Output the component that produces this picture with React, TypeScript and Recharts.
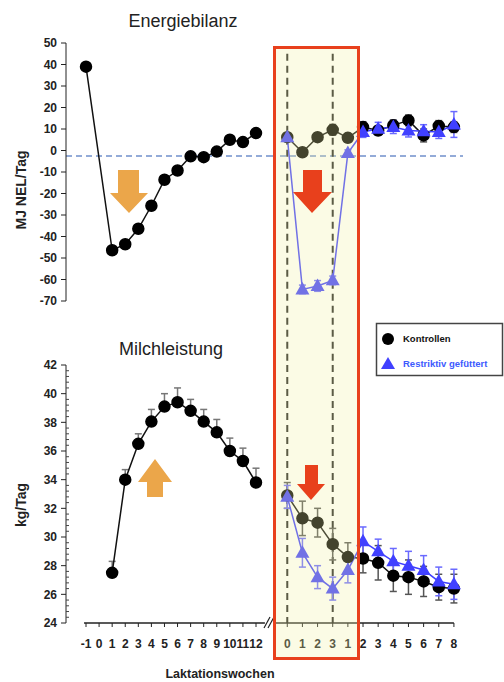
import React from 'react';
import { LineChart, Line, XAxis, YAxis, ReferenceLine, ErrorBar } from 'recharts';

// Laktationswochen, linker Teil (Woche 0 ohne Messwert)
const leftWeeks = [-1, 1, 2, 3, 4, 5, 6, 7, 8, 9, 10, 11, 12];
const leftTicks = [-1, 0, 1, 2, 3, 4, 5, 6, 7, 8, 9, 10, 11, 12];
const energyControlLeft = [39, -46.4, -43.6, -36.4, -25.7, -13.6, -9.3, -2.7, -3.1, -0.5, 5.0, 3.9, 8.1];
const energyControlLeftErr = [1, 1.5, 1.5, 1.5, 1.5, 1.5, 1.5, 1, 1, 1, 1, 1, 1];
const milkControlLeft = [null, 27.5, 34.0, 36.5, 38.05, 39.1, 39.4, 38.8, 38.05, 37.3, 36.0, 35.3, 33.8];
const milkControlLeftErr = [null, 0.8, 0.7, 0.7, 0.85, 0.9, 1.0, 0.8, 0.85, 0.9, 0.9, 0.9, 1.0];

// rechter Teil: Restriktionswochen 0-3, danach Wochen 1-8
const postLabels = ['0', '1', '2', '3', '1', '2', '3', '4', '5', '6', '7', '8'];
const energyControlRight = [6.2, -0.8, 6.2, 9.6, 5.9, 10.9, 9.3, 11.7, 14, 7, 11.4, 10.9];
const energyControlRightErr = [2, 1.5, 2, 2.5, 2, 2.5, 2, 2.5, 2.5, 3, 2.5, 2.5];
const energyRestrictRight = [6.2, -64.6, -63, -60.4, -1.2, 8.6, 10.1, 10.9, 9.3, 9, 8.6, 12.1];
const energyRestrictRightErr = [2, 2, 2.5, 2, 1.5, 2.5, 3, 3, 3, 3, 3, 6];
const milkControlRight = [32.9, 31.3, 31.0, 29.5, 28.6, 28.5, 28.2, 27.3, 27.2, 26.9, 26.5, 26.4];
const milkControlRightErr = [0.9, 1.2, 1.0, 1.1, 1.0, 1.0, 1.2, 1.1, 1.2, 1.05, 0.9, 1.0];
const milkRestrictRight = [32.8, 28.9, 27.2, 26.4, 27.7, 29.7, 29.0, 28.3, 28.0, 27.7, 26.9, 26.7];
const milkRestrictRightErr = [0.8, 1.0, 0.8, 0.8, 0.9, 1.0, 0.85, 0.9, 1.0, 1.0, 1.0, 1.05];

const energyTicks = [50, 40, 30, 20, 10, 0, -10, -20, -30, -40, -50, -60, -70];
const milkTicks = [24, 26, 28, 30, 32, 34, 36, 38, 40, 42];
const milkMinorSteps = [0.4, 0.8, 1.2, 1.6];
const energyLine = -2.5;
const restrictStart = 0;
const restrictEnd = 3;

const FONT = "'Liberation Sans', Arial, sans-serif";
const BLUE = '#4040ff';
const RED = '#e8401c';
const ORANGE = '#eba64a';

const leftData = leftWeeks.map((week, i) => ({
  week,
  energy: energyControlLeft[i],
  energyErr: [0, energyControlLeftErr[i]],
  milk: milkControlLeft[i],
  milkErr: milkControlLeftErr[i] == null ? null : [0, milkControlLeftErr[i]],
}));

const rightData = postLabels.map((label, i) => ({
  idx: i,
  label,
  eCtrl: energyControlRight[i],
  eCtrlErr: energyControlRightErr[i],
  eRes: energyRestrictRight[i],
  eResErr: energyRestrictRightErr[i],
  mCtrl: milkControlRight[i],
  mCtrlErr: milkControlRightErr[i],
  mRes: milkRestrictRight[i],
  mResErr: milkRestrictRightErr[i],
}));

const milkAllTicks = [
  ...milkTicks,
  ...milkTicks.slice(0, -1).flatMap((t) => milkMinorSteps.map((d) => Math.round((t + d) * 10) / 10)),
].sort((a, b) => a - b);

const leftDomain = [-2.53, 13.07];
const rightDomain = [-1.14, 11.6];

const tickStyle = { fontSize: 12, fontWeight: 700, fill: '#222', fontFamily: FONT };

const TriangleDot = (props: any) => {
  const { cx, cy, index } = props;
  if (cx == null || cy == null) return <g key={`tri-${index}`} />;
  return (
    <polygon
      key={`tri-${index}`}
      points={`${cx},${cy - 7.5} ${cx + 7},${cy + 5} ${cx - 7},${cy + 5}`}
      fill={BLUE}
    />
  );
};

const MilkTick = (props: any) => {
  const { x, y, payload } = props;
  const ax = x + 9;
  const major = milkTicks.includes(payload.value);
  return (
    <g>
      {major ? (
        <>
          <line x1={ax - 5} x2={ax} y1={y} y2={y} stroke="#222" />
          <text x={x} y={y} dy="0.355em" textAnchor="end" {...tickStyle}>
            {payload.value}
          </text>
        </>
      ) : (
        <line x1={ax} x2={ax + 3} y1={y} y2={y} stroke="#444" />
      )}
    </g>
  );
};

const abs = (left: number, top: number): React.CSSProperties => ({ position: 'absolute', left, top });

const dashProps = { ifOverflow: 'visible' as const, stroke: '#222', strokeWidth: 2, strokeDasharray: '7 5' };

export default function App() {
  return (
    <div style={{ position: 'absolute', left: 0, top: 0, width: 504, height: 682, background: '#fff', fontFamily: FONT }}>
      {/* Energiebilanz, links */}
      <div style={abs(0, 0)}>
        <LineChart width={270} height={310} data={leftData} margin={{ top: 43, right: 0, bottom: 9, left: 0 }}>
          <XAxis type="number" dataKey="week" domain={leftDomain} hide />
          <YAxis
            width={66}
            domain={[-70, 50]}
            ticks={energyTicks}
            interval={0}
            tickSize={5}
            tickMargin={4}
            stroke="#222"
            tick={tickStyle}
          />
          <ReferenceLine y={energyLine} stroke="#7090cc" strokeWidth={1.5} strokeDasharray="6 4" />
          <Line
            dataKey="energy"
            stroke="#111"
            strokeWidth={1.5}
            dot={{ r: 5.5, fill: '#000', stroke: '#000' }}
            isAnimationActive={false}
          >
            <ErrorBar dataKey="energyErr" width={3.5} stroke="#777" />
          </Line>
        </LineChart>
      </div>

      {/* Energiebilanz, rechts */}
      <div style={abs(270, 0)}>
        <LineChart width={193} height={370} data={rightData} margin={{ top: 43, right: 0, bottom: 69, left: 0 }}>
          <XAxis type="number" dataKey="idx" domain={rightDomain} hide />
          <YAxis domain={[-70, 50]} hide />
          <ReferenceLine y={energyLine} stroke="#7090cc" strokeWidth={1.5} strokeDasharray="6 4" />
          <ReferenceLine segment={[{ x: restrictStart, y: 45 }, { x: restrictStart, y: -99.8 }]} {...dashProps} />
          <ReferenceLine segment={[{ x: restrictEnd, y: 45 }, { x: restrictEnd, y: -99.8 }]} {...dashProps} />
          <Line dataKey="eCtrl" stroke="#111" strokeWidth={1.5} dot={{ r: 5.5, fill: '#000', stroke: '#000' }} isAnimationActive={false}>
            <ErrorBar dataKey="eCtrlErr" width={3.5} stroke="#555" />
          </Line>
          <Line dataKey="eRes" stroke={BLUE} strokeWidth={1.5} dot={TriangleDot} isAnimationActive={false}>
            <ErrorBar dataKey="eResErr" width={3.5} stroke="#6a6aff" />
          </Line>
        </LineChart>
      </div>

      {/* Milchleistung, links */}
      <div style={abs(0, 322)}>
        <LineChart width={270} height={340} data={leftData} margin={{ top: 43, right: 0, bottom: 9, left: 0 }}>
          <XAxis
            type="number"
            dataKey="week"
            domain={leftDomain}
            ticks={leftTicks}
            interval={0}
            height={30}
            axisLine={false}
            tickSize={4}
            tickMargin={12}
            stroke="#222"
            tick={tickStyle}
          />
          <YAxis
            width={66}
            domain={[24, 42]}
            ticks={milkAllTicks}
            interval={0}
            tickSize={5}
            tickMargin={4}
            tickLine={false}
            stroke="#222"
            tick={<MilkTick />}
          />
          <ReferenceLine segment={[{ x: -1.15, y: 24 }, { x: 12.68, y: 24 }]} ifOverflow="visible" stroke="#222" strokeWidth={1.5} />
          <Line dataKey="milk" stroke="#111" strokeWidth={1.5} dot={{ r: 5.5, fill: '#000', stroke: '#000' }} isAnimationActive={false}>
            <ErrorBar dataKey="milkErr" width={3.5} stroke="#777" />
          </Line>
        </LineChart>
      </div>

      {/* Milchleistung, rechts */}
      <div style={abs(270, 322)}>
        <LineChart width={193} height={340} data={rightData} margin={{ top: 43, right: 0, bottom: 9, left: 0 }}>
          <XAxis
            type="number"
            dataKey="idx"
            domain={rightDomain}
            ticks={rightData.map((d) => d.idx)}
            tickFormatter={(v: number) => postLabels[v]}
            interval={0}
            height={30}
            axisLine={false}
            tickSize={4}
            tickMargin={12}
            stroke="#222"
            tick={tickStyle}
          />
          <YAxis domain={[24, 42]} hide />
          <ReferenceLine segment={[{ x: -0.8, y: 24 }, { x: 11, y: 24 }]} ifOverflow="visible" stroke="#222" strokeWidth={1.5} />
          <ReferenceLine segment={[{ x: restrictStart, y: 42 }, { x: restrictStart, y: 24 }]} {...dashProps} />
          <ReferenceLine segment={[{ x: restrictEnd, y: 42 }, { x: restrictEnd, y: 24 }]} {...dashProps} />
          <Line dataKey="mCtrl" stroke="#111" strokeWidth={1.5} dot={{ r: 5.5, fill: '#000', stroke: '#000' }} isAnimationActive={false}>
            <ErrorBar dataKey="mCtrlErr" width={3.5} stroke="#555" />
          </Line>
          <Line dataKey="mRes" stroke={BLUE} strokeWidth={1.5} dot={TriangleDot} isAnimationActive={false}>
            <ErrorBar dataKey="mResErr" width={3.5} stroke="#6a6aff" />
          </Line>
        </LineChart>
      </div>

      {/* Beschriftungen, Pfeile, Markierung */}
      <svg width={504} height={682} style={{ position: 'absolute', left: 0, top: 0, pointerEvents: 'none' }}>
        <rect x={274} y={47} width={85} height={612} fill="rgb(240,240,160)" fillOpacity={0.28} />

        <text x={183} y={27} textAnchor="middle" fontSize={18} fill="#222" fontFamily={FONT}>Energiebilanz</text>
        <text x={171} y={355} textAnchor="middle" fontSize={18} fill="#222" fontFamily={FONT}>Milchleistung</text>
        <text x={21} y={190} transform="rotate(-90 21 190)" textAnchor="middle" dominantBaseline="central" fontSize={14} fontWeight={700} fill="#222" fontFamily={FONT}>MJ NEL/Tag</text>
        <text x={21} y={505} transform="rotate(-90 21 505)" textAnchor="middle" dominantBaseline="central" fontSize={14} fontWeight={700} fill="#222" fontFamily={FONT}>kg/Tag</text>
        <text x={220} y={678} textAnchor="middle" fontSize={12.5} fontWeight={700} fill="#222" fontFamily={FONT}>Laktationswochen</text>

        <polygon points="118,170 139,170 139,193 148,193 129,213 110,193 118,193" fill={ORANGE} />
        <polygon points="155,459 172,482 163,482 163,497 147,497 147,482 138,482" fill={ORANGE} />
        <polygon points="303,170 322,170 322,192 332,192 312,213 293,192 303,192" fill={RED} />
        <polygon points="305,465 318,465 318,484 325,484 311,500 297,484 305,484" fill={RED} />

        <line x1={264} y1={628} x2={270} y2={617} stroke="#222" strokeWidth={1.2} />
        <line x1={268} y1={628} x2={274} y2={617} stroke="#222" strokeWidth={1.2} />

        <rect x={274.5} y={47.5} width={84} height={611} fill="none" stroke={RED} strokeWidth={3} />

        <rect x={376.5} y={323.5} width={126} height={52} fill="#fff" stroke="#444" strokeWidth={1.5} />
        <circle cx={388} cy={339} r={6} fill="#000" />
        <text x={403} y={342} fontSize={9.5} fontWeight={700} fill="#111" fontFamily={FONT}>Kontrollen</text>
        <polygon points="388,357 395,369 381,369" fill={BLUE} />
        <text x={403} y={367} fontSize={9.5} fontWeight={700} fill="#3d5afe" fontFamily={FONT}>Restriktiv gefüttert</text>
      </svg>
    </div>
  );
}
